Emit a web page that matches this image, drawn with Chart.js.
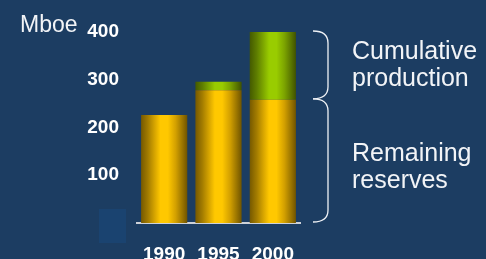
<!DOCTYPE html>
<html>
<head>
<meta charset="utf-8">
<script src="https://cdn.jsdelivr.net/npm/chart.js@4"></script>
<style>
  html, body { margin: 0; padding: 0; background: #1c3d62; }
</style>
</head>
<body>
<canvas id="myChart" width="486" height="259"></canvas>
<script>
const years = ['1990', '1995', '2000'];
const remaining = [226, 278, 258];
const cumulative = [0, 18, 142];
const yTicks = [100, 200, 300, 400];

const FONT = '"Liberation Sans", Arial, sans-serif';
const BG = '#1c3d62';

const yellowStops = [[0, '#765900'], [0.15, '#a37c00'], [0.3, '#d8a600'], [0.42, '#ffc800'],
    [0.58, '#ffc800'], [0.75, '#d3a000'], [0.9, '#987300'], [1, '#705400']];
const greenStops = [[0, '#445a00'], [0.15, '#5e7d00'], [0.3, '#7ea800'], [0.42, '#99cc00'],
    [0.58, '#99cc00'], [0.75, '#7ca400'], [0.9, '#587400'], [1, '#405200']];

// horizontal gradient across each bar, worked out from the x scale
function barFill(stops) {
    return function (ctx) {
        const chart = ctx.chart;
        const xs = chart.scales.x;
        if (!chart.chartArea || !xs) return stops[3][1];
        const w = xs.width / years.length * 0.85;
        const cx = xs.getPixelForValue(ctx.dataIndex);
        const g = chart.ctx.createLinearGradient(cx - w / 2, 0, cx + w / 2, 0);
        for (let s of stops) g.addColorStop(s[0], s[1]);
        return g;
    };
}

function bracket(c, x0, x1, yA, yB, r) {
    c.beginPath();
    c.moveTo(x0, yA);
    c.quadraticCurveTo(x1, yA, x1, yA + r);
    c.lineTo(x1, yB - r);
    c.quadraticCurveTo(x1, yB, x0, yB);
    c.stroke();
}

const decor = {
    id: 'decor',
    beforeDraw(chart) {
        const c = chart.ctx;
        c.save();
        c.fillStyle = BG;
        c.fillRect(0, 0, chart.width, chart.height);
        c.fillStyle = '#1a4370';
        c.fillRect(99, 209, 27, 34);
        c.restore();
    },
    afterDraw(chart) {
        const c = chart.ctx;
        const ys = chart.scales.y;
        const area = chart.chartArea;
        const last = years.length - 1;
        const yTop = ys.getPixelForValue(remaining[last] + cumulative[last]);
        const yMid = ys.getPixelForValue(remaining[last]);
        const yBot = ys.getPixelForValue(0);
        c.save();
        c.fillStyle = '#f2f4f7';
        c.font = '23px ' + FONT;
        c.textBaseline = 'alphabetic';
        c.fillText('Mboe', 20, 32);

        c.strokeStyle = '#eef1f5';
        c.lineWidth = 1.3;
        const bx0 = area.right + 13, bx1 = area.right + 28;
        bracket(c, bx0, bx1, yTop - 1, yMid - 1, 12);
        bracket(c, bx0, bx1, yMid - 1, yBot - 1, 12);

        c.font = '25px ' + FONT;
        const tx = area.right + 52;
        c.fillText('Cumulative', tx, 59);
        c.fillText('production', tx, 86);
        c.fillText('Remaining', tx, 161);
        c.fillText('reserves', tx, 188);
        c.restore();
    }
};

const data = {
    labels: years,
    datasets: [{
        label: 'Remaining reserves',
        data: remaining,
        backgroundColor: barFill(yellowStops),
        borderWidth: 0
    }, {
        label: 'Cumulative production',
        data: cumulative,
        backgroundColor: barFill(greenStops),
        borderWidth: 0
    }]
};

const config = {
    type: 'bar',
    data: data,
    options: {
        responsive: false,
        animation: false,
        layout: { padding: { left: 0, right: 186, top: 32, bottom: 0 } },
        datasets: { bar: { categoryPercentage: 1, barPercentage: 0.85 } },
        plugins: {
            legend: { display: false },
            tooltip: { enabled: false }
        },
        scales: {
            x: {
                stacked: true,
                grid: { display: false, drawTicks: false },
                border: { display: true, color: '#cdd1d8', width: 2 },
                ticks: { color: '#ffffff', padding: 20, font: { family: FONT, size: 19, weight: 'bold' } },
                afterFit: s => { s.height = 36; }
            },
            y: {
                stacked: true,
                min: 0,
                max: 400,
                grid: { display: false, drawTicks: false },
                border: { display: false },
                ticks: {
                    stepSize: 100,
                    color: '#ffffff',
                    padding: 18,
                    font: { family: FONT, size: 19, weight: 'bold' },
                    callback: v => yTicks.includes(v) ? v : ''
                },
                afterFit: s => { s.width = 137; }
            }
        }
    },
    plugins: [decor]
};

const myChart = new Chart(document.getElementById('myChart'), config);
</script>
</body>
</html>
